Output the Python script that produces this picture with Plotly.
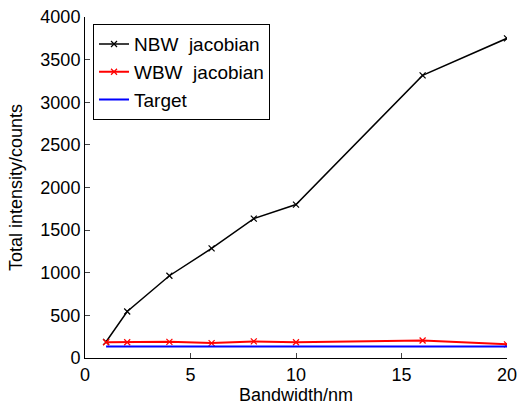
import plotly.graph_objects as go

bandwidth = [1, 2, 4, 6, 8, 10, 16, 20]
nbw = [190, 545, 965, 1285, 1635, 1800, 3315, 3750]
wbw = [185, 185, 190, 175, 195, 185, 205, 160]
target_x = [1, 20]
target_y = [135, 135]

fig = go.Figure()
fig.add_trace(go.Scatter(x=bandwidth, y=nbw, mode="lines+markers", name="NBW  jacobian",
                         line=dict(color="black", width=1.5),
                         marker=dict(symbol="x-thin", size=6, line=dict(width=1.2, color="black"), color="black")))
fig.add_trace(go.Scatter(x=bandwidth, y=wbw, mode="lines+markers", name="WBW  jacobian",
                         line=dict(color="red", width=2),
                         marker=dict(symbol="x-thin", size=6, line=dict(width=1.2, color="red"), color="red")))
fig.add_trace(go.Scatter(x=target_x, y=target_y, mode="lines", name="Target",
                         line=dict(color="blue", width=2)))

font = "Liberation Sans, Arial, sans-serif"
fig.update_layout(
    width=518, height=407,
    margin=dict(l=85, r=11, t=17, b=49),
    paper_bgcolor="white", plot_bgcolor="white",
    font=dict(family=font, size=18, color="black"),
    showlegend=True,
    legend=dict(x=0.019, y=0.979, xanchor="left", yanchor="top",
                bgcolor="white", bordercolor="black", borderwidth=1,
                font=dict(size=19), tracegroupgap=0, itemwidth=30),
    xaxis=dict(range=[0, 20], tickvals=[0, 5, 10, 15, 20], ticks="inside", ticklen=5,
               showline=True, linecolor="black", linewidth=1, showgrid=False, zeroline=False,
               automargin=False, ticklabeloverflow="allow",
               title=dict(text="Bandwidth/nm", font=dict(size=18), standoff=2),
               tickfont=dict(size=18)),
    yaxis=dict(range=[0, 4000], tickvals=list(range(0, 4001, 500)), ticks="inside", ticklen=5,
               showline=True, linecolor="black", linewidth=1, showgrid=False, zeroline=False,
               automargin=False, ticklabeloverflow="allow",
               title=dict(text="Total intensity/counts", font=dict(size=18), standoff=13),
               tickfont=dict(size=18)),
)
fig.write_html("out.html", config={"displayModeBar": False})

# remove the default page margin so the figure fills the window exactly
with open("out.html", encoding="utf-8") as f:
    html = f.read()
html = html.replace("<head>", "<head><style>html,body{margin:0;padding:0;overflow:hidden}</style>", 1)
with open("out.html", "w", encoding="utf-8") as f:
    f.write(html)
